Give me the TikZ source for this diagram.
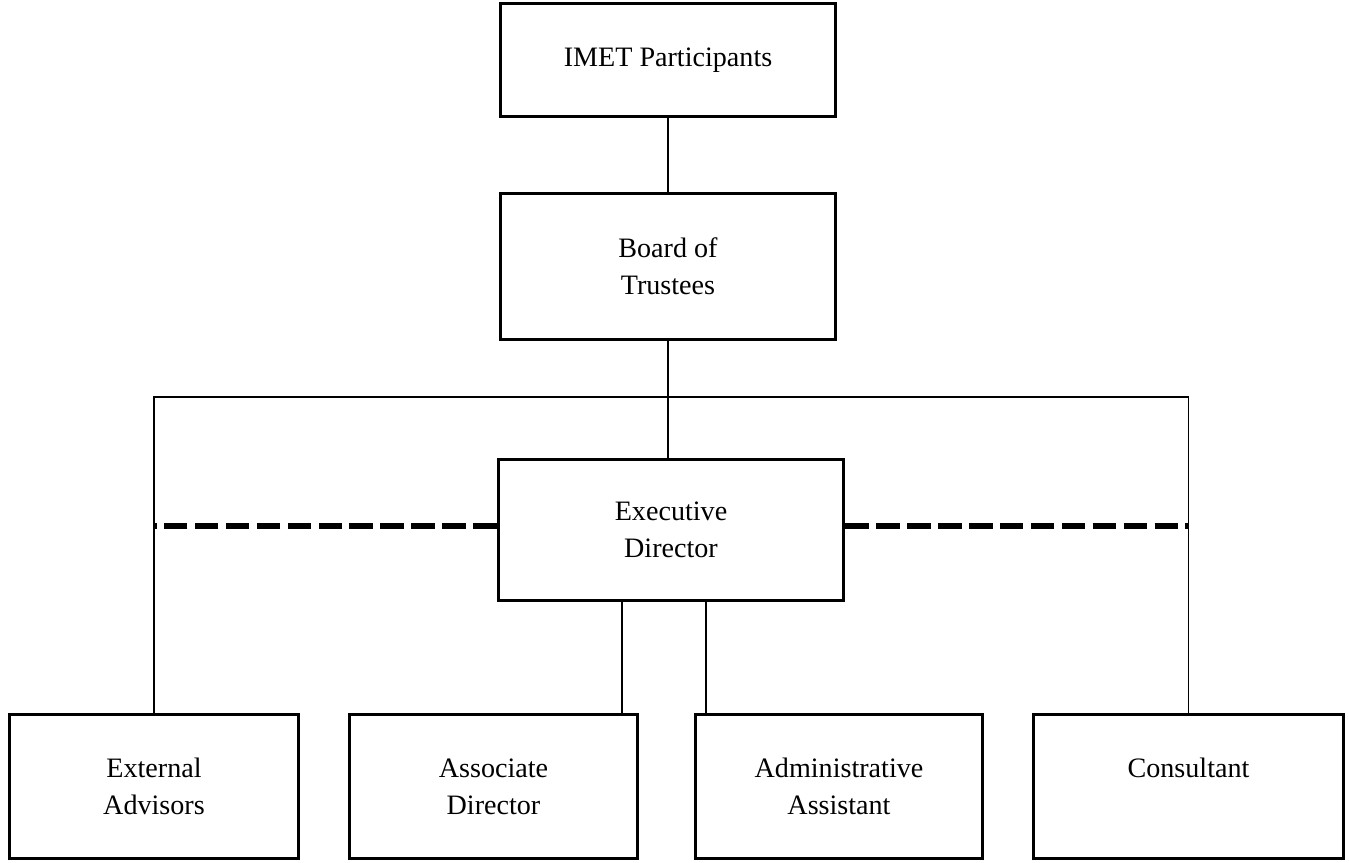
\documentclass[tikz,border=0pt]{standalone}
\usepackage{fontspec}
\setmainfont{Liberation Serif}
\begin{document}
\begin{tikzpicture}[
  box/.style={draw, line width=2pt, align=center, inner sep=0pt,
    font=\fontsize{16}{21}\selectfont},
  link/.style={line width=0.6pt},
  dotted link/.style={line width=3pt, dash pattern=on 13.4pt off 4.2pt}
]
\useasboundingbox (0,0) rectangle (26.98,-17.26);

\node[box, minimum width=6.7cm, minimum height=2.26cm] (imet) at (13.36,-1.2) {IMET Participants};
\node[box, minimum width=6.7cm, minimum height=2.92cm] (board) at (13.36,-5.33) {Board of\\Trustees};
\node[box, minimum width=6.9cm, minimum height=2.82cm] (exec) at (13.42,-10.6) {Executive\\Director};

\node[box, minimum width=5.78cm, minimum height=2.88cm] (ext) at (3.08,-15.73) {External\\Advisors};
\node[box, minimum width=5.76cm, minimum height=2.88cm] (assoc) at (9.87,-15.73) {Associate\\Director};
\node[box, minimum width=5.74cm, minimum height=2.88cm] (admin) at (16.78,-15.73) {Administrative\\Assistant};
\node[box, minimum width=6.2cm, minimum height=2.88cm] (cons) at (23.77,-15.73) {Consultant\\\mbox{}};

\coordinate (split) at (13.36,-7.94);

\draw[link] (imet.south) -- (board.north);
\draw[link] (board.south) -- (board.south |- exec.north);
\draw[link] (split) -| (ext.north);
\draw[link] (split) -| (cons.north);

\draw[dotted link] ([yshift=0.08cm]exec.west) -- ([yshift=0.08cm]exec.west -| ext.north);
\draw[dotted link] ([yshift=0.08cm]exec.east) -- ([yshift=0.08cm]exec.east -| cons.north);

\draw[link] ([xshift=-0.98cm]exec.south) -- ([xshift=-0.98cm]exec.south |- assoc.north);
\draw[link] ([xshift=0.7cm]exec.south) -- ([xshift=0.7cm]exec.south |- admin.north);

\end{tikzpicture}
\end{document}
